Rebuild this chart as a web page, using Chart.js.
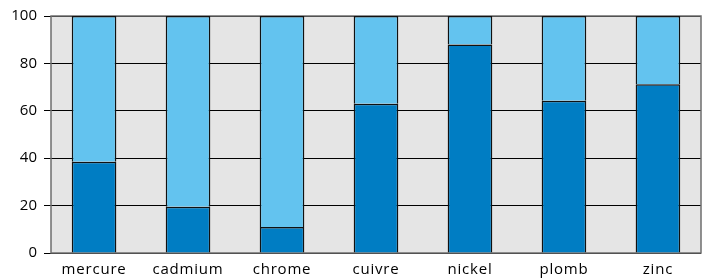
<!DOCTYPE html>
<html lang="fr">
<head>
  <meta charset="UTF-8" />
  <title>Métaux</title>
  <script src="https://cdn.jsdelivr.net/npm/chart.js"></script>
  <style>
    html, body { margin: 0; padding: 0; background: #fff; }
    #wrap { width: 705px; height: 278px; }
  </style>
</head>
<body>
  <div id="wrap"><canvas id="chart"></canvas></div>

  <script>
    // data
    const metals = ["mercure", "cadmium", "chrome", "cuivre", "nickel", "plomb", "zinc"];
    const darkPart = [38.5, 19.5, 11, 63, 88, 64.2, 71.2];
    const lightPart = [61.5, 80.5, 89, 37, 12, 35.8, 28.8];
    const yTicks = [0, 20, 40, 60, 80, 100];

    const FONT = "'Open Sans', 'Liberation Sans', sans-serif";
    const EDGE = 0.458; // gap before first / after last category, in category units

    // grey plot background + frame
    const plotFrame = {
      id: "plotFrame",
      beforeDraw(chart) {
        const { ctx, chartArea: a } = chart;
        ctx.save();
        ctx.fillStyle = "#e5e5e5";
        ctx.fillRect(a.left, a.top, a.right - a.left, a.bottom - a.top);
        ctx.restore();
      },
      beforeDatasetsDraw(chart) {
        const { ctx, chartArea: a } = chart;
        ctx.save();
        ctx.strokeStyle = "#6e6e6e";
        ctx.lineWidth = 1.5;
        ctx.strokeRect(a.left, a.top, a.right - a.left, a.bottom - a.top);
        ctx.restore();
      },
      afterLayout(chart) {
        // a bit of letter spacing on the category labels
        const sx = chart.scales.x;
        if (sx._spaced) return;
        const orig = sx.drawLabels.bind(sx);
        sx.drawLabels = (area) => {
          chart.ctx.save();
          chart.ctx.letterSpacing = "0.8px";
          orig(area);
          chart.ctx.restore();
        };
        sx._spaced = true;
      }
    };

    new Chart(document.getElementById("chart"), {
      type: "bar",
      data: {
        labels: metals,
        datasets: [
          {
            data: darkPart,
            backgroundColor: "#007dc3",
            borderColor: "#111",
            borderWidth: 1.5,
            categoryPercentage: 1,
            barPercentage: 0.475
          },
          {
            data: lightPart,
            backgroundColor: "#63c3ef",
            borderColor: "#111",
            borderWidth: 1.5,
            categoryPercentage: 1,
            barPercentage: 0.475
          }
        ]
      },
      options: {
        responsive: true,
        maintainAspectRatio: false,
        animation: false,
        layout: { padding: { top: 16, right: 4, left: 0, bottom: 0 } },
        plugins: {
          legend: { display: false },
          tooltip: { enabled: false }
        },
        scales: {
          x: {
            stacked: true,
            grid: { display: false },
            border: { display: false },
            ticks: {
              color: "#000",
              padding: 0,
              font: { family: FONT, size: 15 }
            },
            afterBuildTicks(s) {
              // slightly smaller end gaps than the default half category
              if (typeof s._startValue === "number") {
                s._startValue = -EDGE;
                s._valueRange = metals.length - 1 + 2 * EDGE;
              }
            },
            afterFit(s) { s.height = 25; }
          },
          y: {
            stacked: true,
            min: 0,
            max: 100,
            afterBuildTicks(s) { s.ticks = yTicks.map(v => ({ value: v })); },
            grid: { color: "#000", lineWidth: 1, tickLength: 7, drawTicks: true },
            border: { display: false },
            ticks: {
              color: "#000",
              padding: 7,
              font: { family: FONT, size: 15 }
            },
            afterFit(s) { s.width = 51; }
          }
        }
      },
      plugins: [plotFrame]
    });
  </script>
</body>
</html>
